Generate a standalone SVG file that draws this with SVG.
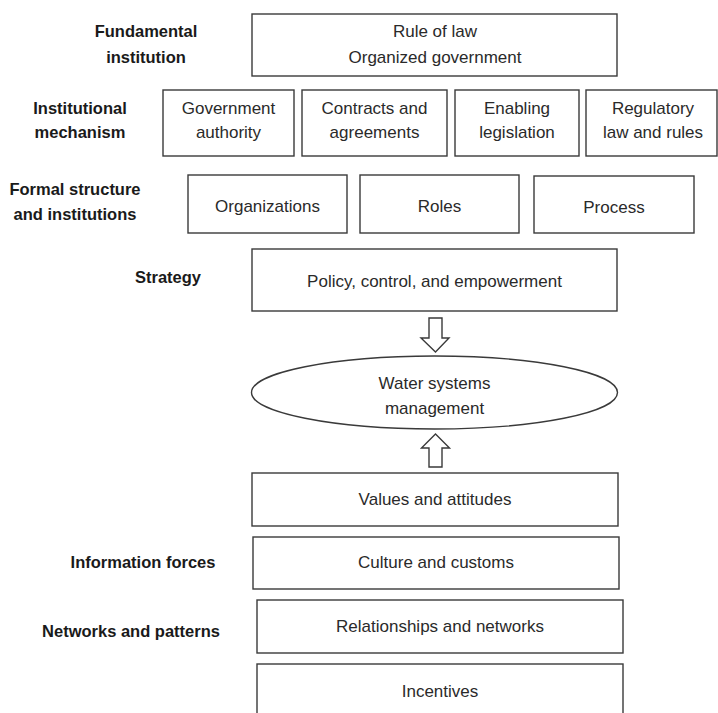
<svg xmlns="http://www.w3.org/2000/svg" width="718" height="713" viewBox="0 0 718 713">
<style>
.box{fill:#fff;stroke:#3a3a3a;stroke-width:1.4}
.t{font-family:"Liberation Sans",Arial,sans-serif;font-size:17px;fill:#2a2a2a;text-anchor:middle}
.lb{font-family:"Liberation Sans",Arial,sans-serif;font-size:16.5px;font-weight:bold;fill:#1a1a1a;text-anchor:middle}
.arr{fill:#fff;stroke:#3a3a3a;stroke-width:1.4;stroke-linejoin:miter}
</style>
<rect width="718" height="713" fill="#fff"/>
<g id="labels">
<text class="lb" x="146" y="37">Fundamental</text>
<text class="lb" x="146" y="63">institution</text>
<text class="lb" x="80" y="114">Institutional</text>
<text class="lb" x="80" y="138">mechanism</text>
<text class="lb" x="75" y="195">Formal structure</text>
<text class="lb" x="75" y="220">and institutions</text>
<text class="lb" x="168" y="283">Strategy</text>
<text class="lb" x="143" y="568">Information forces</text>
<text class="lb" x="131" y="637">Networks and patterns</text>
</g>
<g id="n-fundamental">
<rect class="box" x="252" y="14" width="365" height="62"/>
<text class="t" x="435" y="37">Rule of law</text>
<text class="t" x="435" y="63">Organized government</text>
</g>
<g id="n-gov-authority">
<rect class="box" x="163" y="90" width="131" height="66"/>
<text class="t" x="228.5" y="114">Government</text>
<text class="t" x="228.5" y="138">authority</text>
</g>
<g id="n-contracts">
<rect class="box" x="302" y="90" width="145" height="66"/>
<text class="t" x="374.5" y="114">Contracts and</text>
<text class="t" x="374.5" y="138">agreements</text>
</g>
<g id="n-enabling">
<rect class="box" x="455" y="90" width="124" height="66"/>
<text class="t" x="517" y="114">Enabling</text>
<text class="t" x="517" y="138">legislation</text>
</g>
<g id="n-regulatory">
<rect class="box" x="586" y="90" width="131" height="66"/>
<text class="t" x="653" y="114">Regulatory</text>
<text class="t" x="653" y="138">law and rules</text>
</g>
<g id="n-organizations">
<rect class="box" x="188" y="175" width="159" height="58"/>
<text class="t" x="267.5" y="212">Organizations</text>
</g>
<g id="n-roles">
<rect class="box" x="360" y="175" width="159" height="58"/>
<text class="t" x="439.5" y="212">Roles</text>
</g>
<g id="n-process">
<rect class="box" x="534" y="176" width="160" height="57"/>
<text class="t" x="614" y="213">Process</text>
</g>
<g id="n-strategy">
<rect class="box" x="252" y="249" width="365" height="62"/>
<text class="t" x="434.5" y="287">Policy, control, and empowerment</text>
</g>
<g id="n-water">
<ellipse class="box" cx="434.5" cy="392.5" rx="183" ry="36.5"/>
<text class="t" x="434.5" y="389">Water systems</text>
<text class="t" x="434.5" y="414">management</text>
</g>
<g id="n-values">
<rect class="box" x="252" y="473" width="366" height="53"/>
<text class="t" x="435" y="505">Values and attitudes</text>
</g>
<g id="n-culture">
<rect class="box" x="253" y="537" width="366" height="52"/>
<text class="t" x="436" y="568">Culture and customs</text>
</g>
<g id="n-relationships">
<rect class="box" x="257" y="600" width="366" height="53"/>
<text class="t" x="440" y="632">Relationships and networks</text>
</g>
<g id="n-incentives">
<rect class="box" x="257" y="664" width="366" height="70"/>
<text class="t" x="440" y="697">Incentives</text>
</g>
<g id="connectors">
<path class="arr" d="M429,318 H442 V338 H449 L435.5,352 L421,338 H429 Z"/>
<path class="arr" d="M435.5,434 L449.5,448 H442 V467 H429 V448 H421.5 Z"/>
</g>
</svg>
